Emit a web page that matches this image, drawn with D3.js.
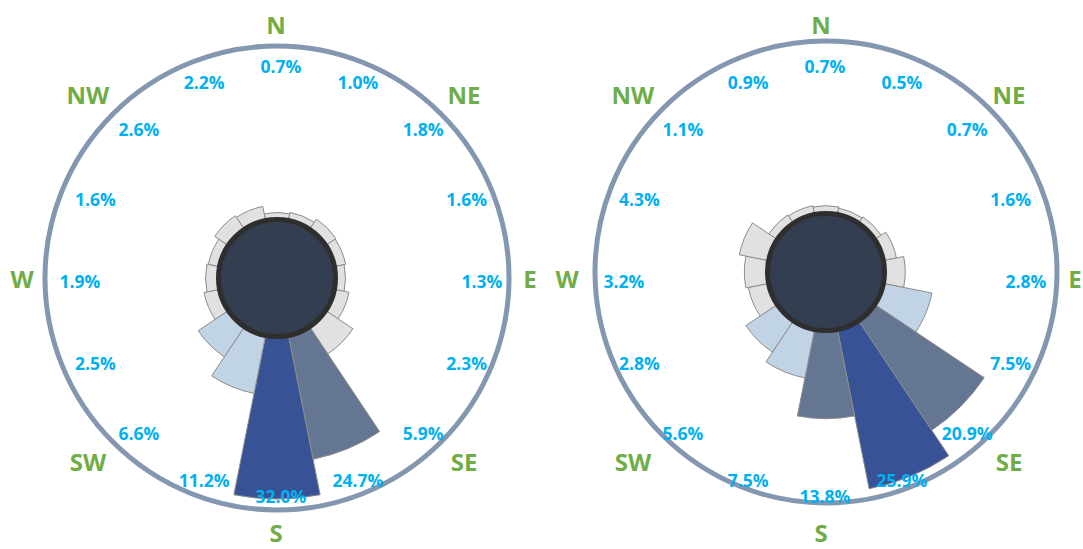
<!DOCTYPE html>
<html>
<head>
<meta charset="utf-8">
<script src="https://cdn.jsdelivr.net/npm/d3@7"></script>
<style>
  body { margin: 0; background: #fff; }
  svg { display: block; font-family: "Open Sans", sans-serif; font-weight: bold; }
</style>
</head>
<body>
<div class="roseContainer"></div>
<script>
// 16 sectors, clockwise from north
var directions = ["N","NNE","NE","ENE","E","ESE","SE","SSE","S","SSW","SW","WSW","W","WNW","NW","NNW"];
var compassLabels = ["N","NE","E","SE","S","SW","W","NW"];

var valuesLeft  = [0.7, 1.0, 1.8, 1.6, 1.3, 2.3, 5.9, 24.7, 32.0, 11.2, 6.6, 2.5, 1.9, 1.6, 2.6, 2.2];
var valuesRight = [0.7, 0.5, 0.7, 1.6, 2.8, 7.5, 20.9, 25.9, 13.8, 7.5, 5.6, 2.8, 3.2, 4.3, 1.1, 0.9];

// colour bands (upper limits of each class)
var bandsLeft  = [6, 12, 30];
var bandsRight = [5, 10, 25];

var width = 1083;
var height = 549;

var svg = d3.select(".roseContainer")
  .append("svg")
    .attr("width", width)
    .attr("height", height);

var angle = d3.scaleLinear()
    .domain([0, directions.length])
    .range([0, 2 * Math.PI]);

drawRose(valuesLeft, bandsLeft, {cx: 277, cy: 278, ring: 232, lx: 281, ly: 281, compX: 276, compY: 278});
drawRose(valuesRight, bandsRight, {cx: 826, cy: 272, ring: 231, lx: 825, ly: 281, compX: 821, compY: 278});

function drawRose(values, bands, p) {
    var g = svg.append("g").attr("class", "rose");

    var radius = d3.scaleLinear()
        .domain([0, d3.max(values)])
        .range([62, 221]);

    var colour = d3.scaleThreshold()
        .domain(bands)
        .range(["#e1e1e1", "#c1d4e6", "#657692", "#385296"]);

    var half = Math.PI / directions.length;

    // outer ring
    g.append("circle")
        .attr("cx", p.cx)
        .attr("cy", p.cy)
        .attr("r", p.ring)
        .style("fill", "none")
        .style("stroke", "#8497b0")
        .style("stroke-width", 5);

    // petals
    var arc = d3.arc()
        .innerRadius(0)
        .outerRadius(function(d){ return radius(d); })
        .startAngle(function(d, i){ return angle(i) - half; })
        .endAngle(function(d, i){ return angle(i) + half; });

    g.append("g")
        .attr("transform", "translate(" + p.cx + "," + p.cy + ")")
      .selectAll(".petal")
        .data(values)
      .enter().append("path")
        .attr("class", "petal")
        .attr("d", arc)
        .style("fill", function(d){ return colour(d); })
        .style("stroke", "#8c8c8c")
        .style("stroke-width", 1);

    // dark hub
    g.append("circle")
        .attr("cx", p.cx)
        .attr("cy", p.cy)
        .attr("r", 58.5)
        .style("fill", "#333f50")
        .style("stroke", "#2e2e2e")
        .style("stroke-width", 5);

    // percentage labels
    g.selectAll(".pct")
        .data(values)
      .enter().append("text")
        .attr("class", "pct")
        .attr("x", function(d, i){ return p.lx + 201 * Math.sin(angle(i)); })
        .attr("y", function(d, i){ return p.ly - 215 * Math.cos(angle(i)); })
        .attr("text-anchor", "middle")
        .attr("dominant-baseline", "central")
        .style("font-size", "17.5px")
        .style("fill", "#00b0f0")
        .text(function(d){ return d.toFixed(1) + "%"; });

    // compass labels, diagonals sit a little further out
    g.selectAll(".compass")
        .data(compassLabels)
      .enter().append("text")
        .attr("class", "compass")
        .attr("x", function(d, i){ return p.compX + (i % 2 ? 266 : 254) * Math.sin(angle(i * 2)); })
        .attr("y", function(d, i){ return p.compY - (i % 2 ? 259 : 254) * Math.cos(angle(i * 2)); })
        .attr("text-anchor", "middle")
        .attr("dominant-baseline", "central")
        .style("font-size", "24px")
        .style("fill", "#70ad47")
        .text(function(d){ return d; });
}
</script>
</body>
</html>
